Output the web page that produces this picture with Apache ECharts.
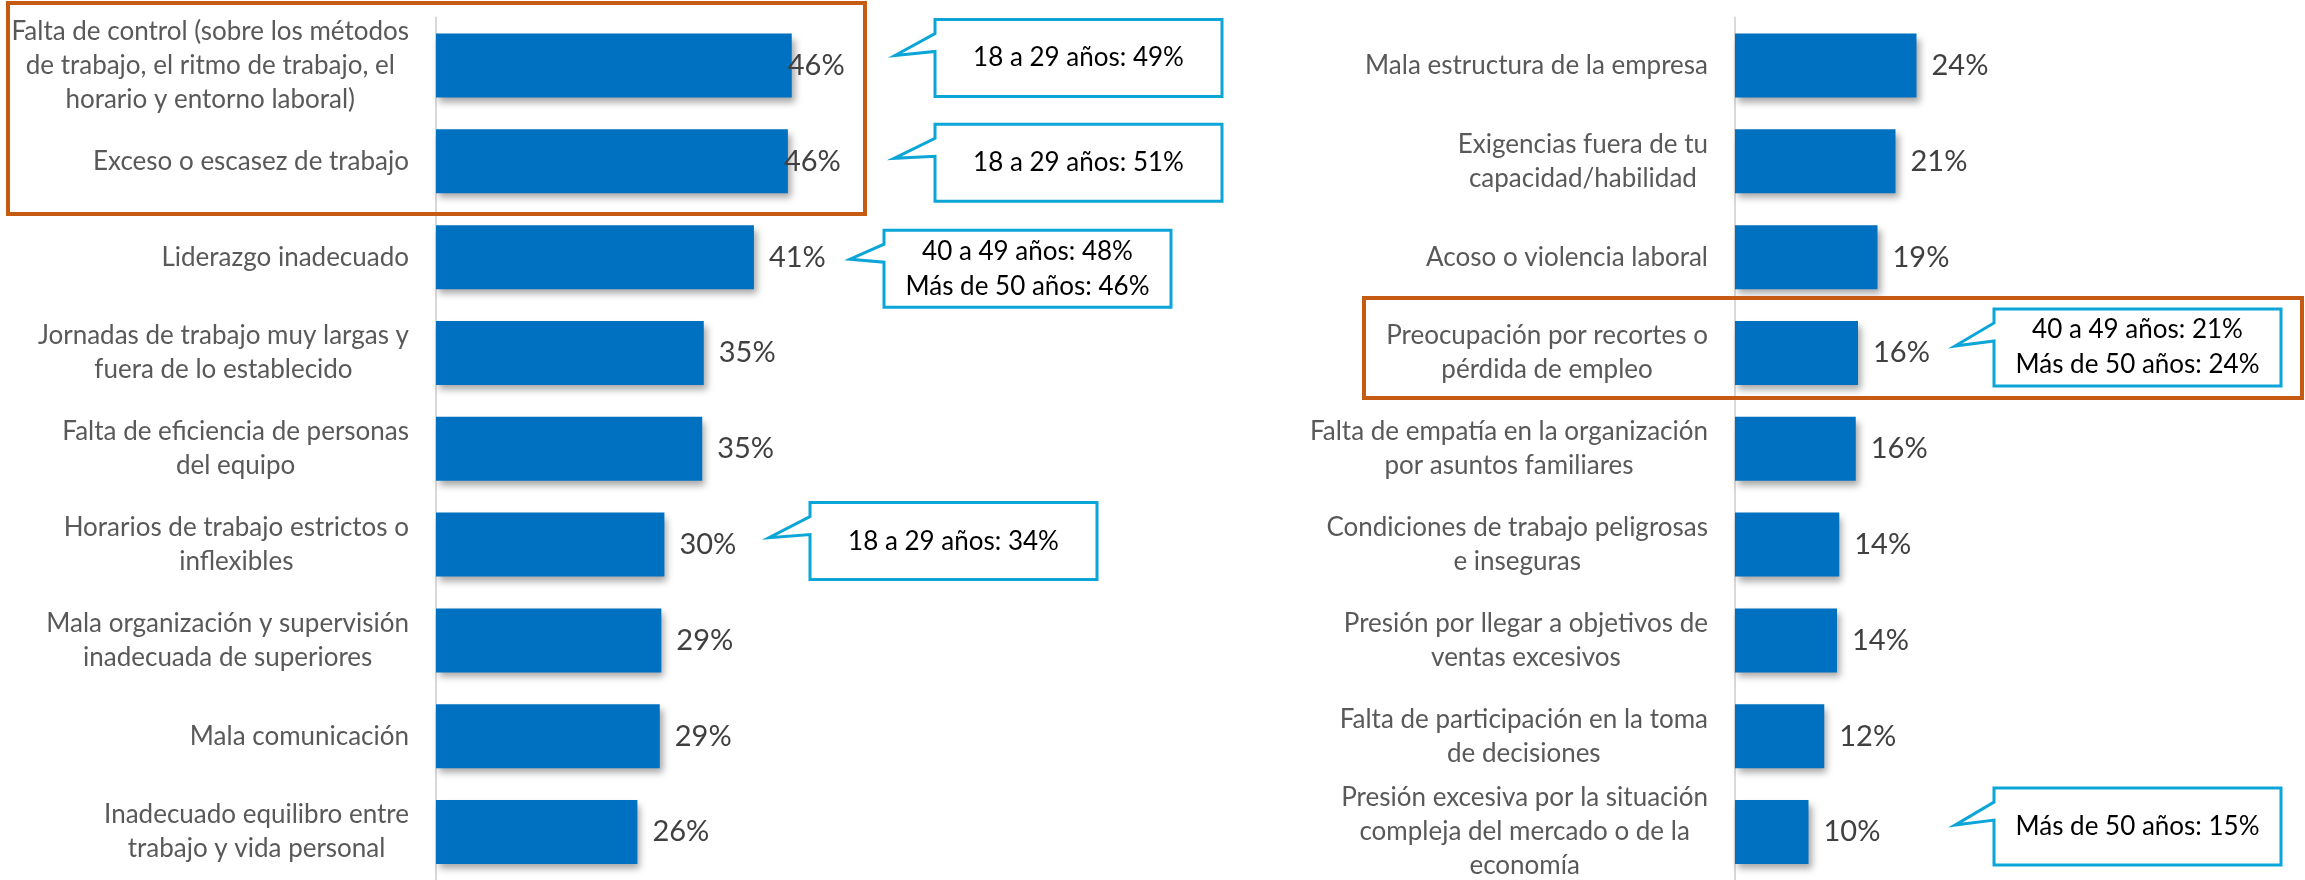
<!DOCTYPE html>
<html>
<head>
<meta charset="utf-8">
<script src="https://cdn.jsdelivr.net/npm/echarts@6/dist/echarts.min.js"></script>
<style>
  html, body { margin: 0; padding: 0; background: #fff; }
  #chart { width: 2305px; height: 880px; }
</style>
</head>
<body>
<div id="chart"></div>
<script>
  // izquierda
  const leftCategories = [
    'Falta de control (sobre los métodos\nde trabajo, el ritmo de trabajo, el\nhorario y entorno laboral)',
    'Exceso o escasez de trabajo',
    'Liderazgo inadecuado',
    'Jornadas de trabajo muy largas y\nfuera de lo establecido',
    'Falta de eficiencia de personas\ndel equipo',
    'Horarios de trabajo estrictos o\ninflexibles',
    'Mala organización y supervisión\ninadecuada de superiores',
    'Mala comunicación',
    'Inadecuado equilibro entre\ntrabajo y vida personal'
  ];
  const leftValues = [46.1, 45.6, 41.2, 34.7, 34.5, 29.6, 29.2, 29.0, 26.1];

  // derecha
  const rightCategories = [
    'Mala estructura de la empresa',
    'Exigencias fuera de tu\ncapacidad/habilidad',
    'Acoso o violencia laboral',
    'Preocupación por recortes o\npérdida de empleo',
    'Falta de empatía en la organización\npor asuntos familiares',
    'Condiciones de trabajo peligrosas\ne inseguras',
    'Presión por llegar a objetivos de\nventas excesivos',
    'Falta de participación en la toma\nde decisiones',
    'Presión excesiva por la situación\ncompleja del mercado o de la\neconomía'
  ];
  const rightValues = [24.2, 21.4, 19.0, 16.4, 16.1, 13.9, 13.6, 11.9, 9.8];

  // notas por edad
  const calloutSide = [0, 0, 0, 0, 1, 1];
  const calloutIndex = [0, 1, 2, 5, 3, 8];
  const calloutTexts = [
    ['18 a 29 años: 49%'],
    ['18 a 29 años: 51%'],
    ['40 a 49 años: 48%', 'Más de 50 años: 46%'],
    ['18 a 29 años: 34%'],
    ['40 a 49 años: 21%', 'Más de 50 años: 24%'],
    ['Más de 50 años: 15%']
  ];
  // layout of the callout boxes (x of box, top offset from bar center, tip x, tip offset)
  const calloutLayout = [
    { x: 935, dy: -46, tipX: 895, tipDy: -10 },
    { x: 935, dy: -37, tipX: 894, tipDy: -3 },
    { x: 884, dy: -27, tipX: 850, tipDy: 2 },
    { x: 810, dy: -42, tipX: 769, tipDy: -7 },
    { x: 1994, dy: -44, tipX: 1955, tipDy: -7 },
    { x: 1994, dy: -44, tipX: 1955, tipDy: -7 }
  ];

  const FONT = 'Lato';
  const BLUE = '#0070C0';
  const CYAN = '#0BA5D8';
  const ORANGE = '#C55A11';

  const catLabel = {
    interval: 0,
    margin: 27,
    align: 'right',
    formatter: v => v.split('\n').map(l => '{c|' + l + '}').join('\n'),
    rich: {
      c: { align: 'center', fontFamily: FONT, fontSize: 26, color: '#595959', lineHeight: 34 }
    }
  };

  function yAxisFor(idx, cats) {
    return {
      type: 'category',
      gridIndex: idx,
      inverse: true,
      data: cats,
      axisTick: { show: false },
      axisLine: { lineStyle: { color: '#D9D9D9', width: 2 } },
      axisLabel: catLabel
    };
  }

  function seriesFor(idx, values) {
    return {
      type: 'bar',
      xAxisIndex: idx,
      yAxisIndex: idx,
      barWidth: 64,
      data: values.map((v, i) => (idx === 0 && i < 2) ? { value: v, label: { distance: -4 } } : v),
      itemStyle: {
        color: BLUE,
        shadowColor: 'rgba(0,0,0,0.35)',
        shadowBlur: 7,
        shadowOffsetX: 3,
        shadowOffsetY: 5
      },
      label: {
        show: true,
        position: 'right',
        distance: 15,
        formatter: p => Math.round(p.value) + '%',
        fontFamily: FONT,
        fontSize: 29,
        color: '#404040'
      }
    };
  }

  const chart = echarts.init(document.getElementById('chart'));
  chart.setOption({
    animation: false,
    backgroundColor: '#fff',
    grid: [
      { left: 436, top: 17.6, width: 463, height: 862.4 },
      { left: 1735, top: 17.6, width: 450, height: 862.4 }
    ],
    xAxis: [
      { type: 'value', gridIndex: 0, min: 0, max: 60, show: false },
      { type: 'value', gridIndex: 1, min: 0, max: 60, show: false }
    ],
    yAxis: [yAxisFor(0, leftCategories), yAxisFor(1, rightCategories)],
    series: [seriesFor(0, leftValues), seriesFor(1, rightValues)]
  });

  // recuadros y notas
  const graphics = [
    { type: 'rect', shape: { x: 8, y: 3, width: 857, height: 211 },
      style: { fill: 'none', stroke: ORANGE, lineWidth: 4 }, z: 100 },
    { type: 'rect', shape: { x: 1364, y: 298, width: 938, height: 100 },
      style: { fill: 'none', stroke: ORANGE, lineWidth: 4 }, z: 100 }
  ];
  calloutTexts.forEach((lines, k) => {
    const side = calloutSide[k];
    const cats = side === 0 ? leftCategories : rightCategories;
    const cy = chart.convertToPixel({ yAxisIndex: side }, cats[calloutIndex[k]]);
    const L = calloutLayout[k];
    const w = 287, h = 77;
    const top = cy + L.dy;
    graphics.push({
      type: 'polygon',
      shape: { points: [
        [L.x, top], [L.x + w, top], [L.x + w, top + h], [L.x, top + h],
        [L.x, top + 32], [L.tipX, cy + L.tipDy], [L.x, top + 14]
      ] },
      style: { fill: '#fff', stroke: CYAN, lineWidth: 3 },
      z: 100
    });
    graphics.push({
      type: 'text',
      x: L.x + w / 2,
      y: top + h / 2,
      style: {
        text: lines.join('\n'),
        align: 'center',
        verticalAlign: 'middle',
        fontFamily: FONT,
        fontSize: 26,
        lineHeight: 35,
        fill: '#000'
      },
      z: 101
    });
  });
  chart.setOption({ graphic: graphics });
</script>
</body>
</html>
